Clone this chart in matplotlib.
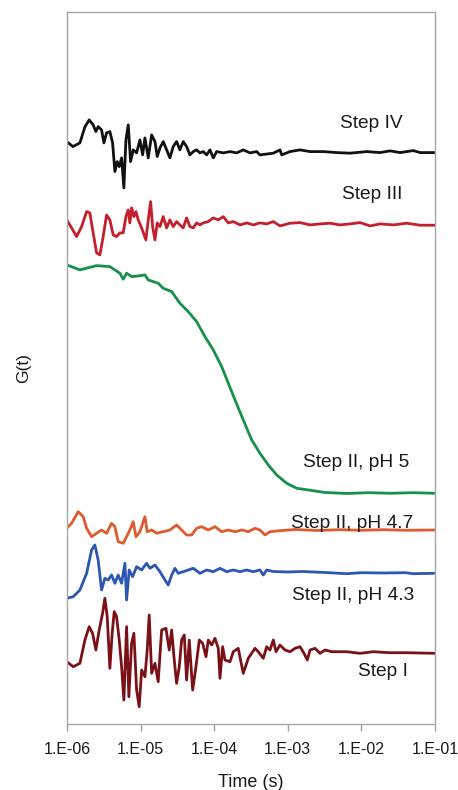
import numpy as np
import matplotlib
matplotlib.use("Agg")
from matplotlib import pyplot as plt
from matplotlib import ticker

# log10(time / s) and G(t) (arbitrary units, curves stacked)
step4_logt = [-6.0, -5.918, -5.823, -5.755, -5.697, -5.643, -5.606, -5.575, -5.529, -5.497,
              -5.461, -5.416, -5.379, -5.348, -5.317, -5.289, -5.257, -5.226, -5.198, -5.167,
              -5.135, -5.099, -5.053, -5.008, -4.971, -4.940, -4.895, -4.849, -4.804, -4.773,
              -4.736, -4.692, -4.645, -4.601, -4.556, -4.510, -4.465, -4.420, -4.374, -4.329,
              -4.284, -4.238, -4.193, -4.148, -4.102, -4.057, -4.012, -3.966, -3.876, -3.785,
              -3.694, -3.605, -3.514, -3.423, -3.378, -3.197, -3.106, -3.083, -2.970, -2.834,
              -2.698, -2.517, -2.337, -2.155, -1.928, -1.747, -1.611, -1.475, -1.294, -1.204, -1.0]
step4_g = [582.3, 577.3, 581, 597, 604, 599, 592.3, 597.3, 594, 581,
           591, 592.3, 581, 552.3, 562.3, 557.3, 566, 536, 584, 599,
           562.3, 574, 571, 584, 569, 586, 566, 589, 582.3, 567.3,
           576, 582.3, 574, 566, 577.3, 582.3, 574, 582.3, 577.3, 569,
           572.3, 574, 571, 572.3, 569, 574, 566, 572.3, 571, 572.3,
           571, 574, 571, 572.3, 569, 570.7, 574, 569, 572.3, 574,
           572.3, 572.3, 571.3, 570.7, 572.3, 571.3, 573, 571.3, 573.3, 571.3, 571.3]

step3_logt = [-6.0, -5.936, -5.868, -5.800, -5.732, -5.688, -5.643, -5.596, -5.552, -5.507,
              -5.461, -5.416, -5.371, -5.325, -5.280, -5.235, -5.198, -5.167, -5.144, -5.121,
              -5.090, -5.062, -5.031, -4.985, -4.927, -4.895, -4.863, -4.836, -4.804, -4.773,
              -4.736, -4.692, -4.645, -4.601, -4.556, -4.510, -4.465, -4.420, -4.374, -4.329,
              -4.284, -4.238, -4.193, -4.148, -4.080, -4.012, -3.944, -3.876, -3.808, -3.740,
              -3.649, -3.558, -3.469, -3.378, -3.287, -3.197, -3.106, -2.970, -2.834, -2.698,
              -2.562, -2.427, -2.291, -2.155, -2.019, -1.883, -1.747, -1.566, -1.385, -1.204, -1.0]
step3_g = [504, 496, 487.3, 497.3, 512.3, 511, 491, 471, 469, 487.3,
           509, 504, 489, 487.3, 491, 491, 507.3, 514, 501, 516,
           507.3, 512.3, 504, 496, 484, 504, 522.3, 497.3, 484, 501,
           497.3, 507.3, 496, 504, 497.3, 502.3, 499, 496, 506, 497.3,
           496, 501, 499, 501, 502.3, 506, 504, 507.3, 501, 502.3,
           499, 501, 499, 501, 500, 502.3, 498, 500.7, 501.3, 499,
           500, 500.7, 499, 500, 501.3, 498, 500, 499, 500.7, 498.7, 498.7]

ph5_logt = [-6.0, -5.823, -5.596, -5.416, -5.280, -5.235, -5.189, -5.121, -5.031, -4.940,
            -4.895, -4.827, -4.760, -4.692, -4.577, -4.465, -4.352, -4.238, -4.125, -4.012,
            -3.898, -3.808, -3.717, -3.605, -3.490, -3.378, -3.265, -3.151, -3.015, -2.879,
            -2.721, -2.5, -2.2, -1.9, -1.6, -1.3, -1.0]
ph5_g = [459, 454, 458.3, 457.3, 450.7, 444.7, 450.7, 447.3, 448, 449,
         444, 442.3, 440.7, 435.7, 432.3, 420.7, 412.3, 402.3, 387.3, 374,
         357.3, 340.7, 324, 304, 284, 270.7, 259, 249, 240.7, 235.7,
         234, 231.5, 230.5, 231.3, 230.7, 231.3, 230.7]

ph47_logt = [-6.0, -5.936, -5.846, -5.779, -5.732, -5.664, -5.596, -5.529, -5.461, -5.393,
             -5.348, -5.303, -5.235, -5.189, -5.144, -5.099, -5.062, -5.008, -4.940, -4.909,
             -4.849, -4.781, -4.692, -4.601, -4.510, -4.442, -4.374, -4.306, -4.238, -4.170,
             -4.080, -3.989, -3.898, -3.808, -3.717, -3.626, -3.537, -3.446, -3.378, -3.310,
             -3.242, -3.106, -2.9, -2.6, -2.3, -2.0, -1.7, -1.4, -1.0]
ph47_g = [195.7, 200.7, 212.3, 207.3, 195.7, 187.3, 190.7, 194, 190.7, 200.7,
          197.3, 182.3, 180.7, 187.3, 194, 202.3, 187.3, 192.3, 207.3, 192.3,
          194, 190.7, 192.3, 194, 199, 194, 189, 189, 195.7, 197.3,
          194, 197.3, 192.3, 194, 192.3, 194, 192.3, 195.7, 194, 189,
          192.3, 193.3, 194.5, 193.5, 194.3, 193.7, 194.3, 193.7, 194]

ph43_logt = [-6.0, -5.914, -5.823, -5.732, -5.664, -5.620, -5.575, -5.529, -5.484, -5.439,
             -5.393, -5.348, -5.303, -5.257, -5.212, -5.189, -5.154, -5.107, -5.053, -4.985,
             -4.917, -4.872, -4.804, -4.736, -4.668, -4.624, -4.577, -4.533, -4.488, -4.420,
             -4.352, -4.284, -4.193, -4.102, -4.012, -3.921, -3.830, -3.740, -3.649, -3.558,
             -3.469, -3.378, -3.333, -3.287, -3.2, -3.0, -2.8, -2.5, -2.2, -2.0,
             -1.7, -1.4, -1.3, -1.0]
ph43_g = [125.7, 127.3, 134, 150.7, 174, 179, 164, 134, 145.7, 144,
          149, 140.7, 149, 140.7, 160.7, 124, 154, 147.3, 157.3, 154,
          160.7, 155.7, 159, 152.3, 144, 139, 149, 155.7, 150.7, 152.3,
          154, 155.7, 150.7, 154, 152.3, 155.7, 152.3, 154, 152.3, 154,
          152.3, 154, 149, 154, 152.5, 152, 152.5, 151.5, 150.3, 151.3,
          151, 151.3, 150.3, 150.7]

step1_logt = [-6.0, -5.914, -5.823, -5.755, -5.697, -5.651, -5.606, -5.561, -5.515, -5.484,
              -5.452, -5.416, -5.385, -5.357, -5.325, -5.289, -5.257, -5.226, -5.189, -5.158,
              -5.121, -5.090, -5.053, -5.018, -4.985, -4.940, -4.909, -4.882, -4.849, -4.804,
              -4.760, -4.713, -4.655, -4.610, -4.577, -4.546, -4.510, -4.474, -4.442, -4.406,
              -4.374, -4.338, -4.292, -4.247, -4.202, -4.156, -4.111, -4.080, -4.034, -3.989,
              -3.944, -3.921, -3.885, -3.853, -3.785, -3.740, -3.673, -3.605, -3.537, -3.446,
              -3.401, -3.333, -3.287, -3.242, -3.197, -3.160, -3.106, -3.038, -2.970, -2.902,
              -2.834, -2.780, -2.735, -2.698, -2.630, -2.562, -2.495, -2.403, -2.314, -2.200,
              -2.019, -1.838, -1.611, -1.385, -1.0]
step1_g = [62.3, 57.3, 60.7, 84, 97.3, 90.7, 74, 94, 110.7, 125.7,
           107.3, 55.7, 90.7, 112.3, 107.3, 84, 57.3, 24, 97.3, 27.3,
           80.7, 90.7, 34, 17.3, 54, 47.3, 74, 109, 50.7, 60.7,
           42.3, 94, 95.7, 74, 94, 67.3, 40.7, 57.3, 84, 89,
           44, 84, 34, 57.3, 84, 80.7, 67.3, 84, 79, 85.7,
           75.7, 45.7, 77.3, 64, 62.3, 72.3, 75.7, 50.7, 65.7, 75.7,
           72.3, 65.7, 77.3, 74, 84, 72.3, 79, 74, 72.3, 75.7,
           77.3, 70.7, 64, 74, 75.7, 70.7, 74, 72.3, 72.3, 72.3,
           70.7, 72.3, 71.3, 71.3, 70.7]

tick_logt = [-6, -5, -4, -3, -2, -1]
tick_labels = ["1.E-06", "1.E-05", "1.E-04", "1.E-03", "1.E-02", "1.E-01"]

plt.rcParams['font.family'] = ['Liberation Sans', 'DejaVu Sans']

fig = plt.figure(figsize=(4.58, 7.90), dpi=100)
ax = fig.add_axes([0.146, 0.0835, 0.804, 0.9015])

series = [
    (step4_logt, step4_g, "#111111", "Step IV", -1.860, 600.7),
    (step3_logt, step3_g, "#c51f2e", "Step III", -1.849, 529),
    (ph5_logt, ph5_g, "#17904a", "Step II, pH 5", -2.076, 261.3),
    (ph47_logt, ph47_g, "#df5a2c", "Step II, pH 4.7", -2.121, 200.7),
    (ph43_logt, ph43_g, "#2b57b3", "Step II, pH 4.3", -2.110, 129),
    (step1_logt, step1_g, "#7a1116", "Step I", -1.702, 52.3),
]
for lt, g, col, name, tx, ty in series:
    ax.plot(10.0 ** np.array(lt), g, color=col, lw=2.0, solid_joinstyle="round")
    ax.text(10.0 ** tx, ty, name, ha="center", va="center", fontsize=13.8, color="#1a1a1a")

ax.set_xscale("log")
ax.set_xlim(1e-6, 1e-1)
ax.set_ylim(0, 712)
ax.xaxis.set_major_locator(ticker.FixedLocator([10.0 ** t for t in tick_logt]))
ax.xaxis.set_major_formatter(ticker.FixedFormatter(tick_labels))
ax.xaxis.set_minor_locator(ticker.NullLocator())
ax.set_yticks([])
ax.tick_params(axis="x", direction="out", length=5, width=1, color="#a0a0a0",
               labelsize=11.5, pad=8, labelcolor="#1a1a1a")
for sp in ax.spines.values():
    sp.set_color("#a8a8a8")
    sp.set_linewidth(1.0)

ax.set_xlabel("Time (s)", fontsize=13, color="#1a1a1a", labelpad=12)
ax.set_ylabel("G(t)", fontsize=12.5, color="#1a1a1a", labelpad=26)

fig.savefig("out.png", dpi=100)
